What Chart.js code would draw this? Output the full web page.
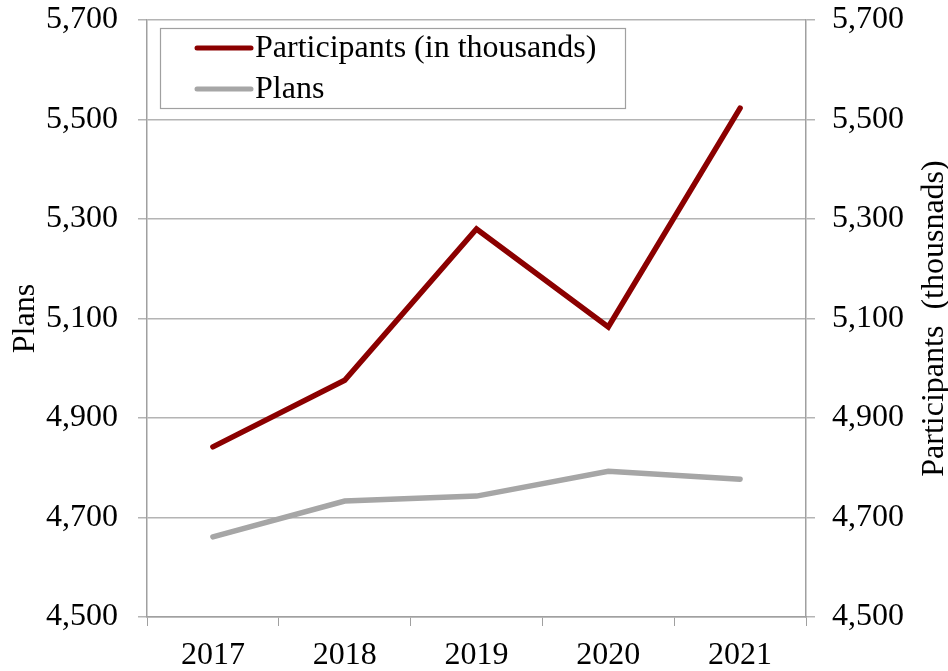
<!DOCTYPE html>
<html>
<head>
<meta charset="utf-8">
<script src="https://cdn.jsdelivr.net/npm/chart.js@4"></script>
<style>
  html, body { margin: 0; padding: 0; background: #fff; }
  #wrap { width: 948px; height: 671px; }
</style>
</head>
<body>
<div id="wrap"><canvas id="main-chart" width="948" height="671"></canvas></div>
<script>
// ── Data ──────────────────────────────────────────────────────────────────────
const YEARS        = ["2017", "2018", "2019", "2020", "2021"];
const PARTICIPANTS = [4842, 4976, 5280, 5083, 5523];
const PLANS        = [4661, 4733, 4743, 4793, 4777];
const Y_MIN = 4500, Y_MAX = 5700, Y_STEP = 200;

const FONT  = "'Liberation Serif', 'Times New Roman', serif";
const FSIZE = 32;
const GRID  = "#b4b4b4";
const AXIS  = "#a0a0a0";
const RED   = "#8b0000";
const GREY  = "#a6a6a6";

const fmt = v => v.toLocaleString("en-US");

// legend drawn as a boxed overlay inside the plot, plus right title (reads upward)
const overlay = {
  id: "overlay",
  afterDraw(chart) {
    const ctx = chart.ctx;
    ctx.save();
    ctx.strokeStyle = "#a0a0a0";
    ctx.lineWidth = 1.2;
    ctx.fillStyle = "#fff";
    ctx.fillRect(160, 28, 465, 80);
    ctx.strokeRect(160.5, 28.5, 465, 80);
    ctx.font = FSIZE + "px " + FONT;
    ctx.textBaseline = "middle";
    chart.data.datasets.forEach((ds, i) => {
      const y = 48 + i * 41;
      ctx.strokeStyle = ds.borderColor;
      ctx.lineWidth = 5;
      ctx.lineCap = "round";
      ctx.beginPath();
      ctx.moveTo(197, y);
      ctx.lineTo(251, y);
      ctx.stroke();
      ctx.fillStyle = "#000";
      ctx.fillText(ds.label, 255, y + 1);
    });

    const a = chart.chartArea;
    ctx.translate(935, (a.top + a.bottom) / 2);
    ctx.rotate(-Math.PI / 2);
    ctx.textAlign = "center";
    ctx.fillText("Participants  (thousnads)", 0, 0);
    ctx.restore();
  }
};

const yTicks = pad => ({
  color: "#000",
  font: { family: FONT, size: FSIZE },
  padding: pad,
  stepSize: Y_STEP,
  callback: v => fmt(v),
});

const noPad = s => { s.paddingTop = 0; s.paddingBottom = 0; };

new Chart(document.getElementById("main-chart"), {
  type: "line",
  data: {
    labels: YEARS,
    datasets: [
      { label: "Participants (in thousands)", data: PARTICIPANTS, yAxisID: "y1",
        borderColor: RED, backgroundColor: RED, borderWidth: 5.5, pointRadius: 0,
        tension: 0, borderCapStyle: "round", borderJoinStyle: "miter" },
      { label: "Plans", data: PLANS, yAxisID: "y",
        borderColor: GREY, backgroundColor: GREY, borderWidth: 5.5, pointRadius: 0,
        tension: 0, borderCapStyle: "round", borderJoinStyle: "miter" },
    ],
  },
  options: {
    responsive: false,
    animation: false,
    layout: { padding: { top: 20, left: 0, right: 0, bottom: 0 } },
    plugins: { legend: { display: false }, tooltip: { enabled: false } },
    scales: {
      x: {
        offset: true,
        grid: { offset: true, drawOnChartArea: false, drawTicks: true, tickLength: 9, color: AXIS },
        border: { color: AXIS, width: 1.5 },
        ticks: { color: "#000", font: { family: FONT, size: FSIZE }, padding: 10, maxRotation: 0 },
        afterFit: s => { s.height = 54; s.paddingLeft = 0; s.paddingRight = 0; },
      },
      y: {
        position: "left",
        min: Y_MIN, max: Y_MAX,
        grid: { color: GRID, lineWidth: 1.5, tickLength: 9 },
        border: { color: AXIS, width: 1.5 },
        ticks: yTicks(20),
        title: { display: true, text: "Plans", color: "#000",
                 font: { family: FONT, size: FSIZE, lineHeight: 1 }, padding: { top: 10, bottom: 0 } },
        afterFit: s => { s.width = 147; noPad(s); },
      },
      y1: {
        position: "right",
        min: Y_MIN, max: Y_MAX,
        grid: { drawOnChartArea: false, color: GRID, lineWidth: 1.5, tickLength: 9 },
        border: { color: AXIS, width: 1.5 },
        ticks: yTicks(17),
        afterFit: s => { s.width = 142; noPad(s); },
      },
    },
  },
  plugins: [overlay],
});
</script>
</body>
</html>
